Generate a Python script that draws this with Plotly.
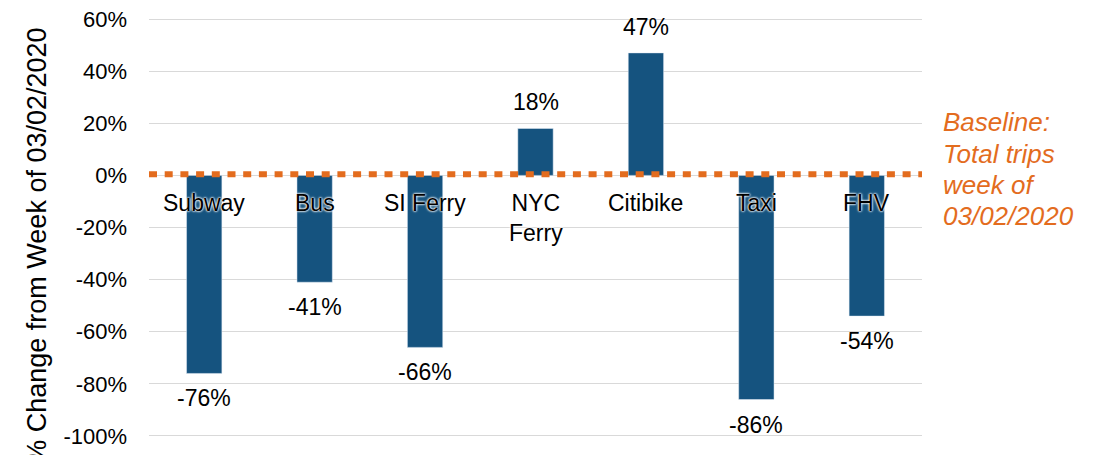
import plotly.graph_objects as go

categories = ["Subway", "Bus", "SI Ferry", "NYC Ferry", "Citibike", "Taxi", "FHV"]
category_labels = ["Subway", "Bus", "SI Ferry", "NYC<br>Ferry", "Citibike", "Taxi", "FHV"]
pct_change = [-0.76, -0.41, -0.66, 0.18, 0.47, -0.86, -0.54]
tick_vals = [0.6, 0.4, 0.2, 0.0, -0.2, -0.4, -0.6, -0.8, -1.0]
tick_text = ["60%", "40%", "20%", "0%", "-20%", "-40%", "-60%", "-80%", "-100%"]
baseline_lines = ["Baseline:", "Total trips", "week of", "03/02/2020"]
baseline_y = [0.7496, 0.6753, 0.601, 0.5268]

BAR = "#15537F"
ORANGE = "#E36C1E"
FONT = "Liberation Sans, Arial, sans-serif"

fig = go.Figure()
fig.add_trace(go.Bar(x=categories, y=pct_change, marker_color=BAR, width=0.32,
                     hoverinfo="skip"))

annotations = []
# data labels
for c, v in zip(categories, pct_change):
    annotations.append(dict(
        x=c, y=v, xref="x", yref="y", text=f"{round(v*100):d}%", showarrow=False,
        yanchor="bottom" if v > 0 else "top", yshift=11 if v > 0 else -10,
        font=dict(family=FONT, size=23, color="#000000")))
# category labels
for c, lab in zip(categories, category_labels):
    annotations.append(dict(
        x=c, y=-0.05, xref="x", yref="y", text=lab, showarrow=False,
        yanchor="top", align="center",
        font=dict(family=FONT, size=23, color="#000000",
                  shadow="0px 0px 2px #ffffff, 0px 0px 2px #ffffff, 0px 0px 3px #ffffff")))
# baseline note
for line, yy in zip(baseline_lines, baseline_y):
    annotations.append(dict(
        x=1.024, y=yy, xref="paper", yref="paper", xanchor="left", yanchor="middle",
        align="left", showarrow=False, text=f"<i>{line}</i>",
        font=dict(family=FONT, size=26, color=ORANGE)))
# y axis title
annotations.append(dict(
    x=-0.145, y=0.4565, xref="paper", yref="paper", xanchor="center", yanchor="middle",
    textangle=-90, showarrow=False, text="% Change from Week of 03/02/2020",
    font=dict(family=FONT, size=27, color="#000000")))

fig.update_layout(
    width=1104, height=455,
    margin=dict(l=141, r=190, t=9, b=25, autoexpand=False),
    paper_bgcolor="white", plot_bgcolor="white",
    showlegend=False,
    annotations=annotations,
    shapes=[dict(type="line", xref="paper", yref="y", x0=0, x1=1, y0=0.004, y1=0.004,
                 line=dict(color=ORANGE, width=6, dash="8px,7.7px"), layer="above")],
    font=dict(family=FONT, size=23, color="#000000"),
)
fig.update_xaxes(showticklabels=False, showgrid=False, zeroline=False, showline=False,
                 ticks="", automargin=False)
fig.update_yaxes(range=[-1.0077, 0.6077], tickvals=tick_vals, ticktext=tick_text,
                 showgrid=True, gridcolor="#D9D9D9", gridwidth=1.3,
                 zeroline=False, showline=False, ticks="", ticklabelstandoff=21,
                 automargin=False, ticklabeloverflow="allow",
                 tickfont=dict(family=FONT, size=22, color="#000000"))

fig.write_html("out.html")
